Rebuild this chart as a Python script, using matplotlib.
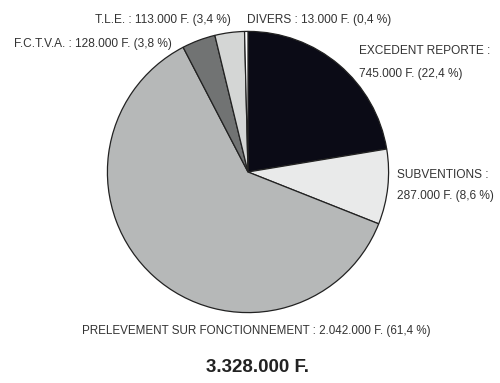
import matplotlib.pyplot as plt

# postes (ordre horaire depuis le haut)
names = ['EXCEDENT REPORTE', 'SUBVENTIONS', 'PRELEVEMENT SUR FONCTIONNEMENT',
         'F.C.T.V.A.', 'T.L.E.', 'DIVERS']
amounts = [745000, 287000, 2042000, 128000, 113000, 13000]
pcts = ['22,4', '8,6', '61,4', '3,8', '3,4', '0,4']
colors = ['#0b0b16', '#e9eaea', '#b6b8b8', '#717373', '#d4d6d5', '#ffffff']
total_label = '3.328.000 F.'

plt.rcParams['font.family'] = ['Liberation Sans', 'DejaVu Sans']


def fmt(v):
    return '{:,}'.format(v).replace(',', '.')


W, H = 500, 383
fig = plt.figure(figsize=(W / 100, H / 100), dpi=100)
cx, cy, r = 248, 172, 142
ax = fig.add_axes([(cx - r) / W, (H - cy - r) / H, 2 * r / W, 2 * r / H])
ax.pie(amounts, colors=colors, startangle=90, counterclock=False,
       wedgeprops=dict(edgecolor='#222222', linewidth=0.9))
ax.set_xlim(-1.01, 1.01)
ax.set_ylim(-1.01, 1.01)
ax.axis('off')


def txt(x, y, s, size=8.6, **kw):
    fig.text(x / W, 1 - y / H, s, color='#333333', fontsize=size, va='center', **kw)


lab = [n + ' : ' + fmt(a) + ' F. (' + p + ' %)' for n, a, p in zip(names, amounts, pcts)]
txt(95, 20, lab[4], ha='left')
txt(247, 20, lab[5], ha='left')
txt(14, 44, lab[3], ha='left')
txt(359, 51, names[0] + ' :', ha='left')
txt(359, 74, fmt(amounts[0]) + ' F. (' + pcts[0] + ' %)', ha='left')
txt(397, 175, names[1] + ' :', ha='left')
txt(397, 196, fmt(amounts[1]) + ' F. (' + pcts[1] + ' %)', ha='left')
txt(256, 331, lab[2], size=8.4, ha='center')
fig.text(258 / W, 1 - 367 / H, total_label, ha='center', va='center',
         fontsize=13.5, fontweight='bold', color='#222222')

fig.savefig('out.png', dpi=100)
